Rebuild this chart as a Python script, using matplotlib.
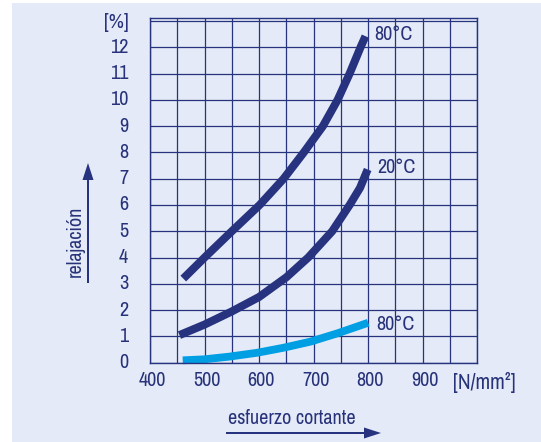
import matplotlib
matplotlib.use("Agg")
import matplotlib.pyplot as plt
from matplotlib.patches import Rectangle, FancyArrow
import matplotlib.font_manager as fm

# pick a condensed font if one is installed
cand = None
for f in fm.fontManager.ttflist:
    n = f.name.lower()
    if ('narrow' in n or 'condensed' in n) and f.style == 'normal' and f.weight in (400, 'normal', 'regular'):
        cand = f.name
        break
fam = [cand, 'DejaVu Sans'] if cand else ['Liberation Sans', 'DejaVu Sans']
plt.rcParams['font.family'] = fam

# data
x_80_dark = [461, 500, 550, 601, 645, 682, 717, 744, 766, 786, 795]
y_80_dark = [3.2, 4.0, 5.0, 6.0, 7.0, 8.0, 9.0, 10.0, 11.0, 12.0, 12.42]
x_20 = [454, 500, 550, 600, 650, 690, 734, 766, 785, 799]
y_20 = [1.05, 1.45, 1.95, 2.5, 3.25, 4.0, 5.0, 6.0, 6.65, 7.35]
x_80_light = [460, 500, 545, 597, 645, 694, 744, 800]
y_80_light = [0.09, 0.13, 0.23, 0.38, 0.57, 0.8, 1.12, 1.52]
x_ticks = [400, 500, 600, 700, 800, 900]
y_ticks = list(range(0, 13))
labels = ['80°C', '20°C', '80°C']

NAVY = '#27337f'
TEXT = '#27327a'
LIGHT = '#009fe3'
BG = '#e4eaf7'

W, H = 541, 442
fig = plt.figure(figsize=(W / 100, H / 100), dpi=100)
fig.patch.set_facecolor('white')
fig.patches.append(Rectangle((12 / W, 0), 1 - 12 / W, (H - 3) / H, transform=fig.transFigure,
                             facecolor=BG, edgecolor='none', zorder=-10))

ax = fig.add_axes([150 / W, (H - 362.7) / H, (477.3 - 150) / W, (362.7 - 18.3) / H])
ax.set_facecolor(BG)
ax.set_xlim(400, 1000)
ax.set_ylim(0, 13.1)
ax.set_xticks(range(400, 1001, 50))
ax.set_yticks(range(0, 14))
ax.grid(True, color=NAVY, lw=0.9)
ax.set_axisbelow(True)
ax.tick_params(length=0, labelbottom=False, labelleft=False)
for s in ax.spines.values():
    s.set_color(NAVY)
    s.set_linewidth(1.0)

fs = 14.5
for v in x_ticks:
    ax.text(v + 4, -0.66, str(v), ha='center', va='center', fontsize=fs, color=TEXT, clip_on=False)
for v in y_ticks:
    ax.text(360, v, str(v), ha='right', va='center', fontsize=fs, color=TEXT, clip_on=False)
ax.text(339, 12.93, '[%]', ha='center', va='center', fontsize=15, color=TEXT, clip_on=False)
ax.text(1013, -0.77, '[N/mm²]', ha='center', va='center', fontsize=15.5, color=TEXT, clip_on=False)

ax.plot(x_80_dark, y_80_dark, color=NAVY, lw=5.8, solid_capstyle='butt', solid_joinstyle='round', clip_on=False)
ax.plot(x_20, y_20, color=NAVY, lw=5.8, solid_capstyle='butt', solid_joinstyle='round', clip_on=False)
ax.plot(x_80_light, y_80_light, color=LIGHT, lw=5.6, solid_capstyle='butt', solid_joinstyle='round', clip_on=False)

ax.text(812, 12.48, labels[0], ha='left', va='center', fontsize=fs, color=TEXT)
ax.text(817, 7.44, labels[1], ha='left', va='center', fontsize=fs, color=TEXT)
ax.text(815, 1.45, labels[2], ha='left', va='center', fontsize=fs, color=TEXT)

# axis titles with arrows
fig.text(75 / W, 1 - 241 / H, 'relajación', rotation=90, ha='center', va='center', fontsize=14.5, color=TEXT)
fig.text(292 / W, 1 - 419 / H, 'esfuerzo cortante', ha='center', va='center', fontsize=14.5, color=TEXT)
fig.add_artist(FancyArrow(88 / W, 1 - 283 / H, 0, (283 - 163 - 17) / H, width=2 / W,
                          head_width=11 / W, head_length=17 / H, length_includes_head=False,
                          transform=fig.transFigure, color=NAVY, lw=0))
fig.add_artist(FancyArrow(226 / W, 1 - 433 / H, (381 - 226 - 17) / W, 0, width=2 / H,
                          head_width=11 / H, head_length=17 / W, length_includes_head=False,
                          transform=fig.transFigure, color=NAVY, lw=0))

fig.savefig('out.png', dpi=100, facecolor=fig.get_facecolor())
